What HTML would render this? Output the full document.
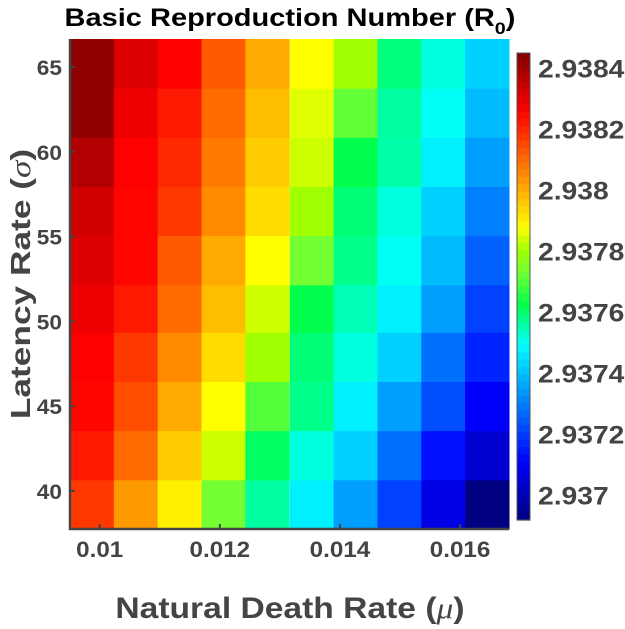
<!DOCTYPE html>
<html><head><meta charset="utf-8"><style>
html,body{margin:0;padding:0;background:#fff;}
svg{display:block;font-family:"Liberation Sans",sans-serif;}
</style></head><body>
<svg id="chart" width="625" height="629" viewBox="0 0 625 629">
<text id="title" x="290" y="26" text-anchor="middle" font-size="25" font-weight="bold" fill="#000">Basic Reproduction Number (R<tspan font-size="17" dy="8">0</tspan><tspan dy="-8">)</tspan></text>
<g id="cells"></g>
<g id="axes"></g>
<g id="cbar"></g>
<text id="ylab" transform="translate(30,284) rotate(-90)" text-anchor="middle" font-size="28" font-weight="bold" fill="#444">Latency Rate (<tspan font-family="Liberation Serif" font-style="italic" font-weight="normal">σ</tspan>)</text>
<text id="xlab" x="290" y="618" text-anchor="middle" font-size="30" font-weight="bold" fill="#444">Natural Death Rate (<tspan font-family="Liberation Serif" font-style="italic" font-weight="normal">μ</tspan>)</text>
</svg>
<script>
// data
const mu = [0.00987,0.01060,0.01133,0.01206,0.01279,0.01353,0.01426,0.01499,0.01572,0.01645];
const sigma = [39.2,42.1,45.0,47.9,50.8,53.6,56.5,59.4,62.3,65.2];
// R0 values; rows from sigma[0] (bottom) to sigma[9] (top)
const r0Row0 = [2.938175,2.938029,2.937899,2.937731,2.937563,2.937471,2.937348,2.937211,2.937073,2.936920];
const r0Row1 = [2.938221,2.938098,2.937953,2.937838,2.937609,2.937517,2.937425,2.937280,2.937134,2.937042];
const r0Row2 = [2.938251,2.938144,2.938003,2.937876,2.937700,2.937578,2.937471,2.937348,2.937226,2.937104];
const r0Row3 = [2.938259,2.938175,2.938052,2.937930,2.937804,2.937593,2.937517,2.937425,2.937280,2.937165];
const r0Row4 = [2.938282,2.938221,2.938098,2.937976,2.937838,2.937624,2.937547,2.937471,2.937348,2.937211];
const r0Row5 = [2.938309,2.938251,2.938124,2.938003,2.937876,2.937731,2.937578,2.937501,2.937394,2.937257];
const r0Row6 = [2.938328,2.938251,2.938175,2.938052,2.937930,2.937804,2.937593,2.937517,2.937425,2.937303];
const r0Row7 = [2.938374,2.938259,2.938198,2.938075,2.937953,2.937838,2.937624,2.937555,2.937471,2.937348];
const r0Row8 = [2.938426,2.938282,2.938221,2.938098,2.937976,2.937853,2.937716,2.937563,2.937501,2.937394];
const r0Row9 = [2.938426,2.938309,2.938259,2.938124,2.938003,2.937876,2.937804,2.937589,2.937517,2.937425];
const r0 = [r0Row0,r0Row1,r0Row2,r0Row3,r0Row4,r0Row5,r0Row6,r0Row7,r0Row8,r0Row9];
const xTicks = [0.010,0.012,0.014,0.016];
const xTickLabels = ["0.01","0.012","0.014","0.016"];
const yTicks = [40,45,50,55,60,65];
const yTickLabels = ["40","45","50","55","60","65"];
const cTicks = [2.9370,2.9372,2.9374,2.9376,2.9378,2.9380,2.9382,2.9384];
const cTickLabels = ["2.937","2.9372","2.9374","2.9376","2.9378","2.938","2.9382","2.9384"];
const cMin = 2.93692, cMax = 2.93845;

const NS="http://www.w3.org/2000/svg";
const L=70,R=509,T=39,B=529;
const dMu = mu[1]-mu[0], dS = sigma[1]-sigma[0];
const xMin = mu[0]-dMu/2, xMax = mu[mu.length-1]+dMu/2;
const yMin = sigma[0]-dS/2, yMax = sigma[sigma.length-1]+dS/2;
const xs = v => L+(v-xMin)/(xMax-xMin)*(R-L);
const ys = v => B-(v-yMin)/(yMax-yMin)*(B-T);
const CT=53,CB=520,CL=517,CR=530;
const cs = v => CB-(v-cMin)/(cMax-cMin)*(CB-CT);
const stops=[[0,0,0,0.5],[0.125,0,0,1],[0.375,0,1,1],[0.46,0,1,0.3],[0.53,0.45,1,0.2],[0.578,0.63,1,0],[0.625,1,1,0],[0.875,1,0,0],[1,0.5,0,0]];
function jet(t){
  t=Math.max(0,Math.min(1,t));
  for(let i=1;i<stops.length;i++){
    if(t<=stops[i][0]){
      const a=stops[i-1],b=stops[i],u=(t-a[0])/(b[0]-a[0]);
      const c=[1,2,3].map(k=>Math.round((a[k]+(b[k]-a[k])*u)*255));
      return `rgb(${c[0]},${c[1]},${c[2]})`;
    }
  }
  return 'rgb(128,0,0)';
}
function mk(tag,attrs,parent){const e=document.createElementNS(NS,tag);for(const k in attrs)e.setAttribute(k,attrs[k]);parent.appendChild(e);return e;}
function stretch(el,f){const w=el.getComputedTextLength();el.setAttribute('textLength',(w*f).toFixed(1));el.setAttribute('lengthAdjust','spacingAndGlyphs');}
const cells=document.getElementById('cells');
for(let i=0;i<sigma.length;i++){for(let j=0;j<mu.length;j++){
  const x0=xs(mu[j]-dMu/2),x1=xs(mu[j]+dMu/2),y0=ys(sigma[i]+dS/2),y1=ys(sigma[i]-dS/2);
  const rc=mk('rect',{x:x0,y:y0,width:x1-x0+0.5,height:y1-y0+0.5,fill:jet((r0[i][j]-cMin)/(cMax-cMin))},cells);
  
  
}}
const axes=document.getElementById('axes');
const ax=mk('path',{d:`M${L},${T} L${L},${B} L${R},${B}`,fill:'none',stroke:'#444','stroke-width':2.5},axes);


xTicks.forEach((v,k)=>{
  const x=xs(v);
  const tk=mk('line',{x1:x,x2:x,y1:B,y2:B-5,stroke:'#444','stroke-width':2},axes);
  
  
  const tx=mk('text',{x:x,y:B+28,'text-anchor':'middle','font-size':22,'font-weight':'bold',fill:'#444'},axes);
  tx.textContent=xTickLabels[k];
  
  
  stretch(tx,1.1);
});
yTicks.forEach((v,k)=>{
  const y=ys(v);
  const tk=mk('line',{x1:L,x2:L+5,y1:y,y2:y,stroke:'#444','stroke-width':2},axes);
  
  
  const tx=mk('text',{x:L-8,y:y+8,'text-anchor':'end','font-size':21,'font-weight':'bold',fill:'#444'},axes);
  tx.textContent=yTickLabels[k];
  
  
  stretch(tx,1.08);
});
const cbar=document.getElementById('cbar');
const N=64;
for(let k=0;k<N;k++){
  const y0=CT+(CB-CT)*k/N;
  const st=mk('rect',{x:CL,y:y0,width:CR-CL,height:(CB-CT)/N+0.6,fill:jet(1-(k+0.5)/N)},cbar);
  
  
}
const cbo=mk('rect',{x:CL,y:CT,width:CR-CL,height:CB-CT,fill:'none',stroke:'#555','stroke-width':1},cbar);


cTicks.forEach((v,k)=>{
  const y=cs(v);
  const tx=mk('text',{x:538,y:y+9,'font-size':25,'font-weight':'bold',fill:'#444'},cbar);
  tx.textContent=cTickLabels[k];
  
  
  stretch(tx,1.13);
});
stretch(document.getElementById('xlab'),1.12);
stretch(document.getElementById('ylab'),1.26);
stretch(document.getElementById('title'),1.16);
</script>
</body></html>
